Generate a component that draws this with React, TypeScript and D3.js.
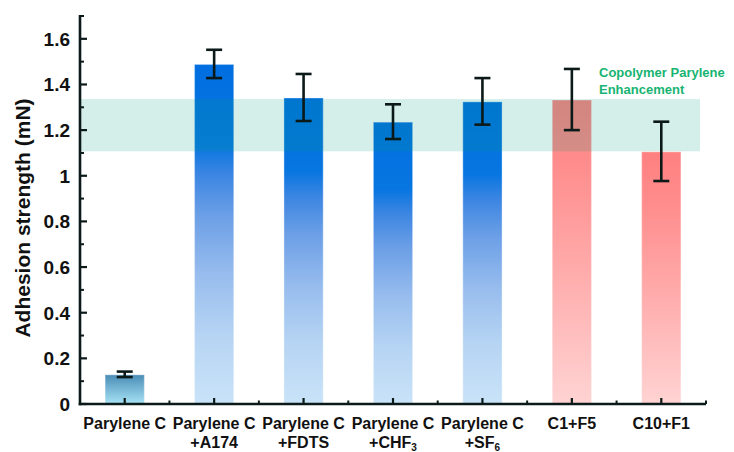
import React from "react";
import * as d3 from "d3";

const categoriesLine1 = ["Parylene C", "Parylene C", "Parylene C", "Parylene C", "Parylene C", "C1+F5", "C10+F1"];
const categoriesLine2 = ["", "+A174", "+FDTS", "+CHF", "+SF", "", ""];
const categoriesSub = ["", "", "", "3", "6", "", ""];
const values = [0.13, 1.49, 1.343, 1.237, 1.326, 1.334, 1.107];
const errors = [0.012, 0.062, 0.103, 0.076, 0.102, 0.134, 0.13];
const groups = ["base", "blue", "blue", "blue", "blue", "red", "red"];
const bandRange = [1.107, 1.336];
const yTicks = [0, 0.2, 0.4, 0.6, 0.8, 1, 1.2, 1.4, 1.6];
const yMinorTicks = [0.1, 0.3, 0.5, 0.7, 0.9, 1.1, 1.3, 1.5, 1.7];
const bandLabel = ["Copolymer Parylene", "Enhancement"];

const W = 734;
const H = 452;
const left = 80;
const right = 706;
const top = 16;
const bottom = 404;

export default function App() {
  const x = d3.scaleBand<number>().domain(d3.range(values.length)).range([left, right]).paddingInner(0.55).paddingOuter(0.275);
  const xs = d3.scaleBand<number>().domain(d3.range(values.length)).range([left, right]);
  const y = d3.scaleLinear().domain([0, 1.7]).range([bottom, top]);
  const font = "'Liberation Sans', Arial, Helvetica, sans-serif";
  const ink = "#0b1a18";
  const fillFor = (g: string) => (g === "base" ? "url(#gBase)" : g === "blue" ? "url(#gBlue)" : "url(#gRed)");

  return (
    <svg width={W} height={H} style={{ position: "absolute", left: 0, top: 0 }} fontFamily={font}>
      <defs>
        <linearGradient id="gBlue" x1="0" y1="0" x2="0" y2="1">
          <stop offset="0" stopColor="#006ee0" />
          <stop offset="0.24" stopColor="#0876e0" />
          <stop offset="0.32" stopColor="#3a85e2" />
          <stop offset="0.44" stopColor="#6a9ee6" />
          <stop offset="0.62" stopColor="#98bdee" />
          <stop offset="0.8" stopColor="#b6d4f3" />
          <stop offset="1" stopColor="#c9e3f8" />
        </linearGradient>
        <linearGradient id="gRed" x1="0" y1="0" x2="0" y2="1">
          <stop offset="0" stopColor="#ff8080" />
          <stop offset="0.2" stopColor="#ff8c8c" />
          <stop offset="0.55" stopColor="#ffaaaa" />
          <stop offset="1" stopColor="#ffd3d3" />
        </linearGradient>
        <linearGradient id="gBase" x1="0" y1="0" x2="0" y2="1">
          <stop offset="0" stopColor="#4a8cb6" />
          <stop offset="1" stopColor="#a8e4f6" />
        </linearGradient>
      </defs>

      {values.map((v, i) => (
        <rect
          key={"b" + i}
          x={(x(i) as number) + 0.5}
          y={y(v) + 0.5}
          width={x.bandwidth() - 1}
          height={bottom - y(v) - 0.5}
          fill={fillFor(groups[i])}
          stroke="#ffffff"
          strokeOpacity={0.3}
          strokeWidth={1.2}
        />
      ))}

      <rect x={left} y={y(bandRange[1])} width={700 - left} height={y(bandRange[0]) - y(bandRange[1])} fill="rgb(0,160,125)" fillOpacity={0.17} />

      {values.map((v, i) => {
        const cx = (x(i) as number) + x.bandwidth() / 2;
        const y1 = y(v + errors[i]);
        const y2 = y(v - errors[i]);
        return (
          <g key={"e" + i} stroke={ink} strokeWidth={2.6}>
            <line x1={cx} x2={cx} y1={y1} y2={y2} />
            <line x1={cx - 8} x2={cx + 8} y1={y1} y2={y1} />
            <line x1={cx - 8} x2={cx + 8} y1={y2} y2={y2} />
          </g>
        );
      })}

      {/* axes */}
      <line x1={left} x2={left} y1={top - 1} y2={bottom + 1.3} stroke={ink} strokeWidth={2.6} />
      <line x1={left - 1.3} x2={right} y1={bottom} y2={bottom} stroke={ink} strokeWidth={2.6} />
      {yTicks.map((t) => (
        <g key={"yt" + t}>
          <line x1={left} x2={left + 7} y1={y(t)} y2={y(t)} stroke={ink} strokeWidth={2.2} />
          <text x={70} y={y(t)} dy="0.36em" textAnchor="end" fontSize={19} fontWeight="bold" fill="#111">
            {String(+t.toFixed(1))}
          </text>
        </g>
      ))}
      {yMinorTicks.map((t) => (
        <line key={"ym" + t} x1={left} x2={left + 4} y1={y(t)} y2={y(t)} stroke={ink} strokeWidth={2} />
      ))}
      {values.map((_, i) => {
        const cx = (xs(i) as number) + xs.bandwidth() / 2;
        return <line key={"xt" + i} x1={cx} x2={cx} y1={bottom} y2={bottom - 6} stroke={ink} strokeWidth={2.2} />;
      })}
      {d3.range(1, values.length + 1).map((i) => {
        const bx = left + i * xs.step();
        return <line key={"xm" + i} x1={bx} x2={bx} y1={bottom} y2={bottom - 3.5} stroke={ink} strokeWidth={2} />;
      })}

      {values.map((_, i) => {
        const cx = (xs(i) as number) + xs.bandwidth() / 2;
        return (
          <g key={"xl" + i} fontSize={16} fontWeight="bold" fill="#111" textAnchor="middle">
            <text x={cx} y={429}>{categoriesLine1[i]}</text>
            {categoriesLine2[i] && (
              <text x={cx} y={447.5}>
                {categoriesLine2[i]}
                {categoriesSub[i] && (
                  <tspan fontSize={10} dy={3}>{categoriesSub[i]}</tspan>
                )}
              </text>
            )}
          </g>
        );
      })}

      <text transform={`translate(30,${(top + bottom) / 2 + 8}) rotate(-90)`} textAnchor="middle" fontSize={21} fontWeight="bold" fill="#111">
        Adhesion strength (mN)
      </text>

      {bandLabel.map((s, i) => (
        <text key={"bl" + i} x={599} y={77 + i * 16.5} fontSize={13} fontWeight="bold" fill="#17b471">
          {s}
        </text>
      ))}
    </svg>
  );
}
